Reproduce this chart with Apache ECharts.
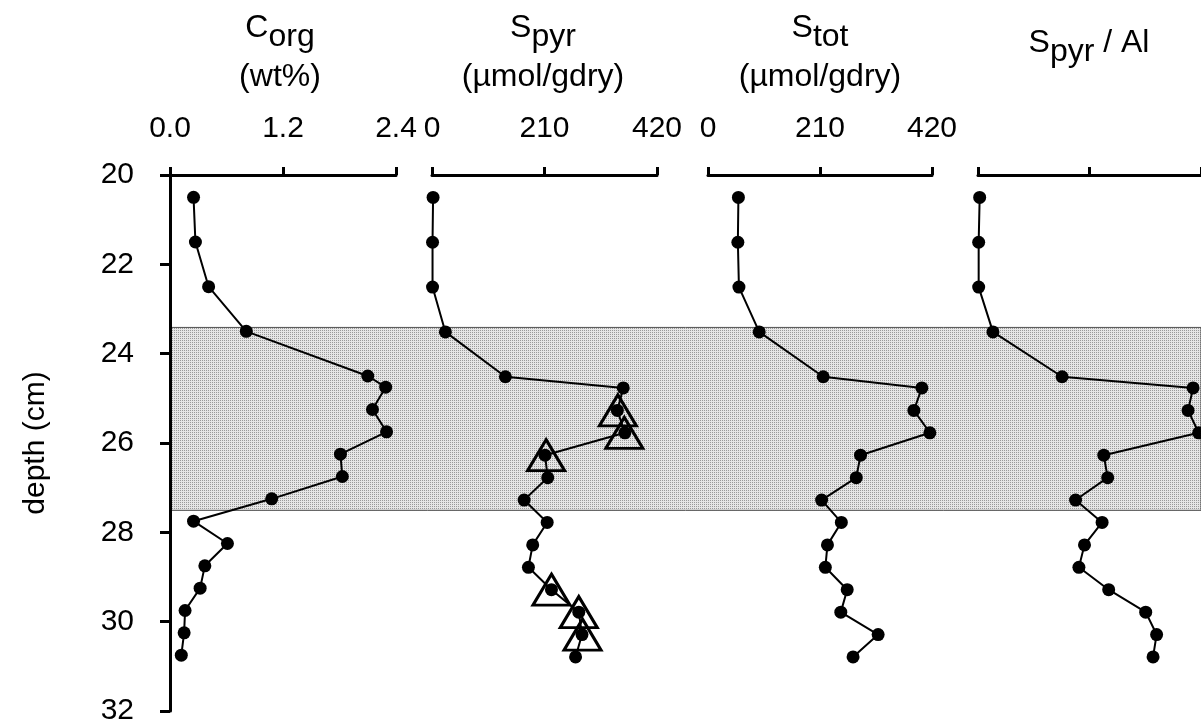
<!DOCTYPE html>
<html><head><meta charset="utf-8">
<script src="https://cdn.jsdelivr.net/npm/echarts@6/dist/echarts.min.js"></script>
<style>html,body{margin:0;padding:0;background:#fff}#c{width:1201px;height:726px}</style>
</head><body><div id="c"></div>
<script>
// ---- data ----
const depth  = [20.5, 21.5, 22.5, 23.5, 24.5, 24.75, 25.25, 25.75, 26.25, 26.75, 27.25, 27.75, 28.25, 28.75, 29.25, 29.75, 30.25, 30.75];
const corg   = [0.25, 0.27, 0.41, 0.81, 2.10, 2.29, 2.15, 2.30, 1.81, 1.83, 1.08, 0.25, 0.61, 0.37, 0.32, 0.16, 0.15, 0.12];
const spyr   = [2, 1, 1, 25, 137, 357, 346, 360, 211, 216, 172, 215, 188, 180, 223, 274, 280, 268];
const stot   = [57, 56, 58, 96, 216, 401, 386, 416, 286, 278, 213, 250, 224, 220, 261, 249, 319, 272];
const spyrAl = [0.015, 0.006, 0.006, 0.134, 0.754, 1.929, 1.884, 1.979, 1.128, 1.163, 0.875, 1.113, 0.955, 0.905, 1.172, 1.504, 1.602, 1.570];
const triDepth = [25.25, 25.75, 26.25, 29.25, 29.75, 30.25];
const triSpyr  = [347, 359, 213, 223, 274, 281];
const bandDepth = [23.4, 27.48];
const depthTicks = [20, 22, 24, 26, 28, 30, 32];
const corgTicks = ['0.0', '1.2', '2.4'];
const sTicks = ['0', '210', '420'];
const titles = [
  { parts: [['C', 0], ['org', 1]], unit: '(wt%)' },
  { parts: [['S', 0], ['pyr', 1]], unit: '(µmol/gdry)' },
  { parts: [['S', 0], ['tot', 1]], unit: '(µmol/gdry)' },
  { parts: [['S', 0], ['pyr', 1], [' / Al', 0]], unit: null }
];
const yName = 'depth (cm)';

// ---- layout ----
const FONT = "'Liberation Sans', Arial, sans-serif";
const FS = 30, TFS = 32;
const TOP = 175, H = 538;
const panels = [
  { left: 170, width: 226, cx: 280 },
  { left: 432, width: 225, cx: 543 },
  { left: 708, width: 224, cx: 820 },
  { left: 978, width: 225, cx: 1089 }
];
const pair = (xs, ds) => xs.map((v, i) => [v, ds[i]]);

// dotted fill for the band
const pc = document.createElement('canvas'); pc.width = 2; pc.height = 2;
const pg = pc.getContext('2d');
pg.fillStyle = '#e6e6e6'; pg.fillRect(0, 0, 2, 2);
pg.fillStyle = '#9a9a9a'; pg.fillRect(0, 0, 1, 1);

// measure text for titles
const mc = document.createElement('canvas').getContext('2d');
mc.font = TFS + 'px ' + FONT;
const graphics = [];
titles.forEach((t, i) => {
  const cx = panels[i].cx;
  const single = !t.unit;
  const yMain = single ? 43 : 28;
  const subOff = 9;
  const widths = t.parts.map(p => mc.measureText(p[0]).width);
  const total = widths.reduce((a, b) => a + b, 0);
  let x = cx - total / 2;
  t.parts.forEach((p, k) => {
    graphics.push({ type: 'text', x: x, y: yMain + (p[1] ? subOff : 0), z: 10,
      style: { text: p[0], font: TFS + 'px ' + FONT, fill: '#000', align: 'left', textAlign: 'left', verticalAlign: 'middle', textVerticalAlign: 'middle' } });
    x += widths[k];
  });
  if (t.unit) {
    graphics.push({ type: 'text', x: cx, y: 77, z: 10,
      style: { text: t.unit, font: TFS + 'px ' + FONT, fill: '#000', align: 'center', textAlign: 'center', verticalAlign: 'middle', textVerticalAlign: 'middle' } });
  }
});

const axLine = { show: true, onZero: false, lineStyle: { color: '#000', width: 3 } };
const axTick = { show: true, inside: false, length: 8, lineStyle: { color: '#000', width: 3 } };
const labelStyle = { color: '#000', fontSize: FS, fontFamily: FONT };

const xAxes = [
  { gridIndex: 0, type: 'value', position: 'top', min: 0, max: 2.4, interval: 1.2,
    axisLine: axLine, axisTick: axTick, splitLine: { show: false },
    axisLabel: Object.assign({ margin: 31, formatter: v => corgTicks[Math.round(v / 1.2)] }, labelStyle) },
  { gridIndex: 1, type: 'value', position: 'top', min: 0, max: 420, interval: 210,
    axisLine: axLine, axisTick: axTick, splitLine: { show: false },
    axisLabel: Object.assign({ margin: 31, formatter: v => sTicks[Math.round(v / 210)] }, labelStyle) },
  { gridIndex: 2, type: 'value', position: 'top', min: 0, max: 420, interval: 210,
    axisLine: axLine, axisTick: axTick, splitLine: { show: false },
    axisLabel: Object.assign({ margin: 31, formatter: v => sTicks[Math.round(v / 210)] }, labelStyle) },
  { gridIndex: 3, type: 'value', position: 'top', min: 0, max: 2, interval: 1,
    axisLine: axLine, axisTick: axTick, splitLine: { show: false }, axisLabel: { show: false } },
  { gridIndex: 4, type: 'value', min: 0, max: 1, show: false }
];
const yBase = { type: 'value', min: depthTicks[0], max: depthTicks[depthTicks.length - 1], interval: 2, inverse: true };
const yAxes = [
  Object.assign({ gridIndex: 0, z: 5, axisLine: axLine,
    axisTick: { show: true, inside: false, length: 10, lineStyle: { color: '#000', width: 3 } },
    splitLine: { show: false },
    axisLabel: Object.assign({ margin: 36 }, labelStyle),
    name: yName, nameLocation: 'middle', nameGap: 119, nameRotate: 90,
    nameTextStyle: { color: '#000', fontSize: FS, fontFamily: FONT } }, yBase),
  Object.assign({ gridIndex: 1, show: false }, yBase),
  Object.assign({ gridIndex: 2, show: false }, yBase),
  Object.assign({ gridIndex: 3, show: false }, yBase),
  Object.assign({ gridIndex: 4, show: false }, yBase)
];
xAxes.forEach(a => a.z = 5);

const lineSeries = (idx, vals) => ({
  type: 'line', xAxisIndex: idx, yAxisIndex: idx, data: pair(vals, depth), z: 3,
  symbol: 'circle', symbolSize: 13, showSymbol: true, showAllSymbol: true,
  itemStyle: { color: '#000', opacity: 1 }, lineStyle: { color: '#000', width: 2 }
});

const option = {
  animation: false,
  backgroundColor: '#fff',
  grid: panels.map(p => ({ left: p.left, width: p.width, top: TOP, height: H }))
    .concat([{ left: 170, width: 1060, top: TOP, height: H }]),
  xAxis: xAxes,
  yAxis: yAxes,
  graphic: graphics,
  series: [
    { type: 'line', xAxisIndex: 4, yAxisIndex: 4, data: [[0, 20]], symbol: 'none', z: 0,
      lineStyle: { width: 0 },
      markArea: { silent: true,
        itemStyle: { color: { image: pc, repeat: 'repeat' }, borderColor: '#505050', borderWidth: 1 },
        data: [[{ yAxis: bandDepth[0] }, { yAxis: bandDepth[1] }]] } },
    lineSeries(0, corg),
    lineSeries(1, spyr),
    lineSeries(2, stot),
    lineSeries(3, spyrAl),
    { type: 'scatter', xAxisIndex: 1, yAxisIndex: 1, data: pair(triSpyr, triDepth), z: 4,
      symbol: 'triangle', symbolSize: [37, 31],
      itemStyle: { color: 'rgba(255,255,255,0)', borderColor: '#000', borderWidth: 3, opacity: 1 } }
  ]
};
const chart = echarts.init(document.getElementById('c'), null, { renderer: 'canvas' });
chart.setOption(option);
</script></body></html>
